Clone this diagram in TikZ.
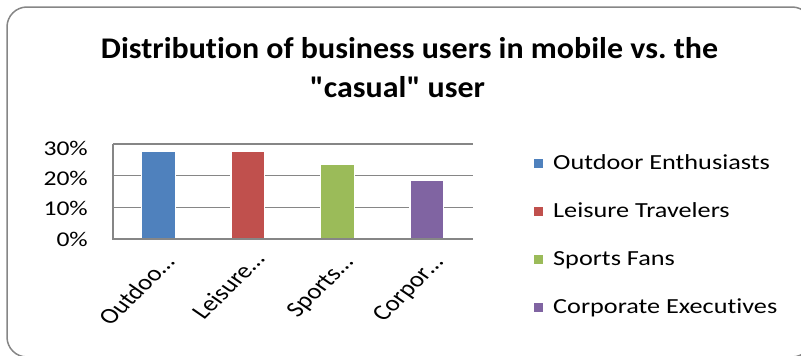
\documentclass[tikz,border=0pt]{standalone}
\usepackage{fontspec}
\setmainfont{Carlito}[FakeStretch=1.22, Ligatures={TeXOff,CommonOff}]
\newfontfamily\plainfont{Carlito}[Ligatures={TeXOff,CommonOff}]
\newfontfamily\titlefam{Carlito}[FakeStretch=1.065, Ligatures={TeXOff,CommonOff}]
\definecolor{bordergray}{RGB}{134,134,134}
\definecolor{gridgray}{RGB}{134,134,134}
\definecolor{cblue}{RGB}{79,129,189}
\definecolor{cred}{RGB}{192,80,77}
\definecolor{cgreen}{RGB}{155,187,89}
\definecolor{cpurple}{RGB}{128,100,162}
\tikzset{
  gridline/.style={draw=gridgray, line width=1.5pt},
  bar/.style={draw=white, line width=1.2pt},
  txt/.style={inner sep=0pt, text=black},
  ylab/.style={txt, anchor=east, font=\fontsize{21}{21}\selectfont},
  leglab/.style={txt, anchor=base west, font=\fontsize{21.5}{21.5}\selectfont},
  catlab/.style={txt, anchor=base east, rotate=50, font=\plainfont\fontsize{22}{22}\selectfont},
  legsq/.style={minimum size=10pt, inner sep=0pt, draw=white, line width=0.4pt},
  titlefont/.style={txt, anchor=base, font=\titlefam\bfseries\fontsize{30}{30}\selectfont\frenchspacing}
}
\begin{document}
\begin{tikzpicture}[x=1pt,y=-1pt]
\useasboundingbox (0,0) rectangle (801,356);
% outer frame
\begin{scope}
  \clip (0,0) rectangle (801,356);
  \draw[draw=bordergray, line width=1.5pt, rounded corners=20pt] (7,7) rectangle (812,357);
\end{scope}
% title
\node[titlefont] (t1) at (409.5,58.5) {Distribution of business users in mobile vs. the};
\node[titlefont] (t2) at (397.5,97) {"casual" user};
% gridlines
\foreach \v/\yy in {1/207.3,2/175.7,3/144} {
  \draw[gridline] (113,\yy) -- (472.7,\yy);
}
% bars
\fill[cblue,bar]   (141.5,239) rectangle (175.2,151.7);
\fill[cred,bar]    (231,239) rectangle (264.7,151.7);
\fill[cgreen,bar]  (320.5,239) rectangle (354.2,164);
\fill[cpurple,bar] (410,239) rectangle (443.7,180);
% axes
\draw[gridline] (113,144) -- (113,239) -- (472.7,239);
% y labels
\node[ylab] (y30) at (88,148.3) {30\%};
\node[ylab] (y20) at (88,178.5) {20\%};
\node[ylab] (y10) at (88,208.8) {10\%};
\node[ylab] (y0)  at (88,239.2) {0\%};
% category labels
\begin{scope}[shift={(176,263)}, xscale=1.22, transform shape]
  \node[catlab] (c1) at (0,0) {Outdoo…};
\end{scope}
\begin{scope}[shift={(266,260)}, xscale=1.22, transform shape]
  \node[catlab] (c2) at (0,0) {Leisure…};
\end{scope}
\begin{scope}[shift={(354.5,263)}, xscale=1.22, transform shape]
  \node[catlab] (c3) at (0,0) {Sports…};
\end{scope}
\begin{scope}[shift={(444.5,263)}, xscale=1.22, transform shape]
  \node[catlab] (c4) at (0,0) {Corpor…};
\end{scope}
% legend
\node[legsq, fill=cblue]   (s1) at (538,163.3) {};
\node[legsq, fill=cred]    (s2) at (538,211.4) {};
\node[legsq, fill=cgreen]  (s3) at (538,259.5) {};
\node[legsq, fill=cpurple] (s4) at (538,307.6) {};
\node[leglab] (l1) at (553,169.5) {Outdoor Enthusiasts};
\node[leglab] (l2) at (553,217.6) {Leisure Travelers};
\node[leglab] (l3) at (553,265.7) {Sports Fans};
\node[leglab] (l4) at (553,313.8) {Corporate Executives};
\end{tikzpicture}
\end{document}
